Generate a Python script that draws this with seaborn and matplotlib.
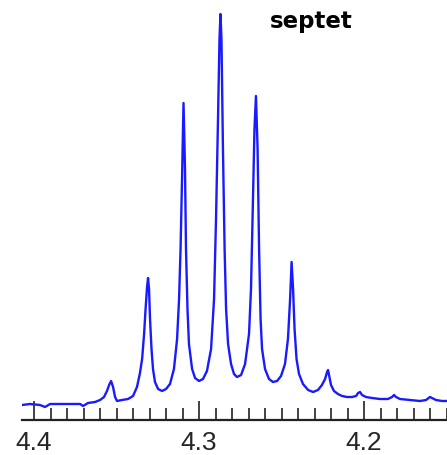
import matplotlib
matplotlib.use("Agg")
import matplotlib.pyplot as plt
from matplotlib.ticker import MultipleLocator
import seaborn as sns
import pandas as pd

# Traced spectrum (chemical shift in ppm, intensity in arbitrary units)
ppm = [4.4073, 4.4024, 4.3964, 4.3933, 4.3903, 4.3842, 4.3782, 4.3721, 4.3703, 4.3673,
       4.3630, 4.3600, 4.3576, 4.3558, 4.3545, 4.3533, 4.3521, 4.3509, 4.3497, 4.3467,
       4.3430, 4.3400, 4.3376, 4.3358, 4.3345, 4.3333, 4.3324, 4.3315, 4.3309, 4.3303,
       4.3297, 4.3288, 4.3279, 4.3267, 4.3248, 4.3224, 4.3200, 4.3176, 4.3152, 4.3133,
       4.3121, 4.3112, 4.3103, 4.3094, 4.3085, 4.3079, 4.3070, 4.3061, 4.3042, 4.3024,
       4.3000, 4.2976, 4.2952, 4.2927, 4.2909, 4.2897, 4.2885, 4.2876, 4.2870, 4.2864,
       4.2855, 4.2845, 4.2836, 4.2824, 4.2806, 4.2788, 4.2770, 4.2745, 4.2721, 4.2697,
       4.2685, 4.2673, 4.2664, 4.2655, 4.2645, 4.2636, 4.2627, 4.2618, 4.2600, 4.2576,
       4.2552, 4.2527, 4.2503, 4.2479, 4.2461, 4.2448, 4.2439, 4.2430, 4.2421, 4.2409,
       4.2394, 4.2370, 4.2339, 4.2309, 4.2279, 4.2255, 4.2236, 4.2224, 4.2218, 4.2212,
       4.2200, 4.2182, 4.2158, 4.2133, 4.2103, 4.2073, 4.2048, 4.2036, 4.2024, 4.2012,
       4.1988, 4.1952, 4.1903, 4.1855, 4.1830, 4.1818, 4.1806, 4.1782, 4.1721, 4.1661,
       4.1624, 4.1600, 4.1588, 4.1564, 4.1527, 4.1497]
intensity = [0, 1, 0, -2, 1, 1, 1, 1, -1, 2,
             3, 5, 8, 14, 20, 24, 18, 8, 4, 5,
             6, 9, 18, 32, 46, 71, 96, 118, 127, 116,
             86, 56, 36, 23, 16, 14, 16, 21, 36, 66,
             106, 156, 226, 302, 236, 156, 96, 61, 36, 27,
             24, 26, 34, 56, 106, 186, 286, 366, 391, 366,
             256, 156, 96, 61, 41, 31, 28, 30, 41, 71,
             116, 206, 276, 309, 256, 156, 86, 56, 36, 26,
             23, 24, 29, 41, 66, 106, 143, 116, 76, 46,
             31, 21, 15, 13, 15, 20, 26, 33, 35, 30,
             20, 14, 11, 9, 8, 8, 9, 12, 13, 10,
             8, 7, 6, 6, 8, 10, 8, 6, 5, 4,
             5, 8, 7, 5, 4, 4]

major_ticks = [4.4, 4.3, 4.2]
tick_labels = ["4.4", "4.3", "4.2"]
title_text = "septet"

df = pd.DataFrame({"ppm": ppm, "intensity": intensity})

sns.set_style("white")
fig = plt.figure(figsize=(4.47, 4.56), dpi=100)
ax = fig.add_axes([22 / 447, 35 / 456, 425 / 447, 421 / 456])

sns.lineplot(data=df, x="ppm", y="intensity", ax=ax, color="#1a1aff",
             linewidth=1.7, sort=False, estimator=None)

ax.set_xlim(4.4073, 4.1497)
ax.set_ylim(-15, 406)

for s in ["left", "right", "top"]:
    ax.spines[s].set_visible(False)
ax.spines["bottom"].set_color("#222222")
ax.spines["bottom"].set_linewidth(1.6)

ax.set_xticks(major_ticks)
ax.set_xticklabels(tick_labels, fontsize=19, color="#262626",
                   family=["Liberation Sans", "DejaVu Sans"])
ax.xaxis.set_minor_locator(MultipleLocator(0.01))
ax.tick_params(axis="x", which="major", direction="in", length=13.5, width=1.2,
               color="#222222", pad=7, bottom=True)
ax.tick_params(axis="x", which="minor", direction="in", length=8.5, width=1.2,
               color="#222222", bottom=True)
ax.set_yticks([])
ax.set_xlabel("")
ax.set_ylabel("")

fig.text(311 / 447, 1 - 28 / 456, title_text, fontsize=16.5, fontweight="bold",
         ha="center", va="baseline", color="black", family="DejaVu Sans")

fig.savefig("out.png", dpi=100)
